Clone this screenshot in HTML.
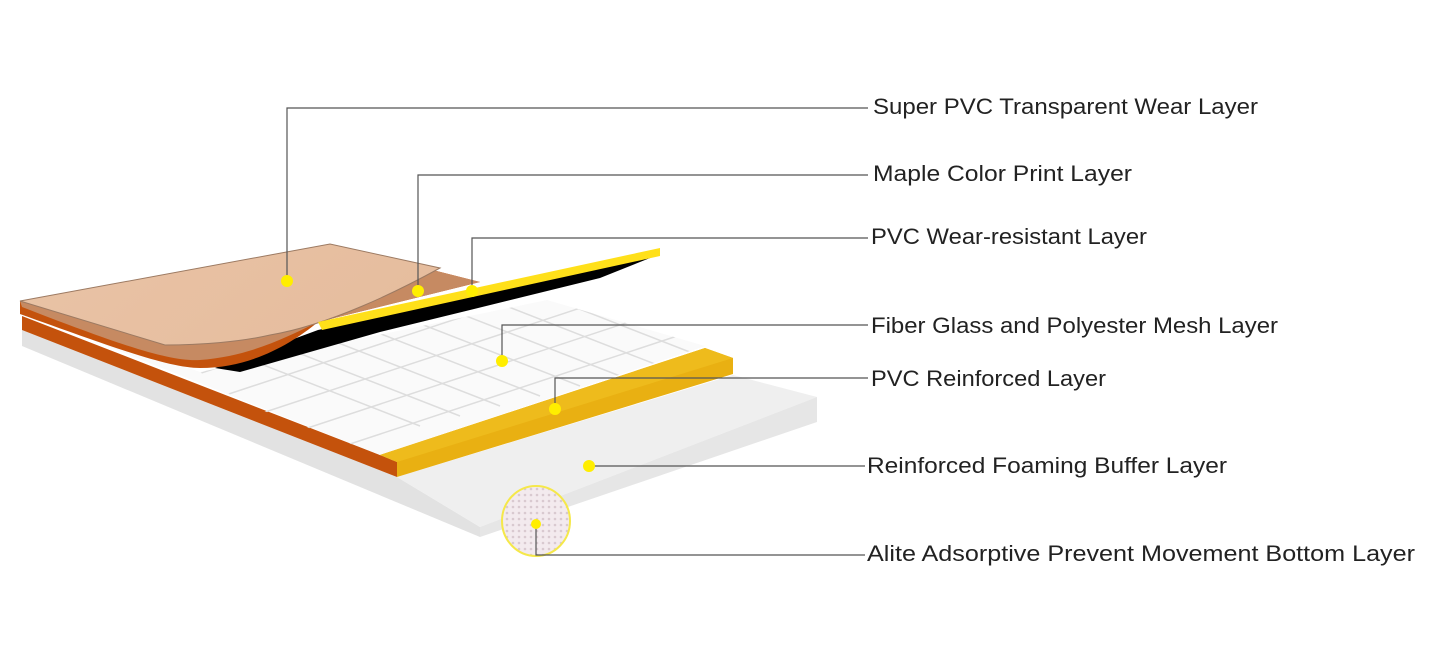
<!DOCTYPE html>
<html><head><meta charset="utf-8"><style>
html,body{margin:0;padding:0;background:#fff;}
svg{display:block}
text{font-family:"Liberation Sans",sans-serif;font-size:22px;fill:#222;}
</style></head><body>
<svg width="1445" height="668" viewBox="0 0 1445 668" xmlns="http://www.w3.org/2000/svg">
<defs>
<clipPath id="mc"><polygon points="200,372 547,300 705,346 380,455 240,402"/></clipPath>
<linearGradient id="wood" x1="0" y1="0" x2="1" y2="0.3"><stop offset="0" stop-color="#e9c3a6"/><stop offset="1" stop-color="#e6bd9e"/></linearGradient>
<pattern id="dots" width="6" height="6" patternUnits="userSpaceOnUse"><rect width="6" height="6" fill="#f3eaee"/><circle cx="3" cy="3" r="1.3" fill="#d9c9d0"/></pattern>
</defs>
<polygon points="22,330 397,477 480,527 480,537 22,346" fill="#e2e2e2"/>
<polygon points="397,477 733,375 817,397 480,527" fill="#efefef"/>
<polygon points="480,527 817,397 817,422 480,537" fill="#e6e6e6"/>
<polygon points="22,316 380,455 397,462 397,477 22,330" fill="#c4520c"/>
<polygon points="22,312 200,372 547,300 705,346 380,455" fill="#fafafa"/>
<g clip-path="url(#mc)" stroke="#dddddd" stroke-width="1.5">
<line x1="100" y1="250" x2="500" y2="406"/><line x1="140" y1="240" x2="540" y2="396"/>
<line x1="180" y1="230" x2="580" y2="386"/><line x1="220" y1="220" x2="620" y2="376"/>
<line x1="260" y1="210" x2="660" y2="366"/><line x1="300" y1="200" x2="700" y2="356"/>
<line x1="340" y1="190" x2="740" y2="346"/><line x1="380" y1="180" x2="780" y2="336"/>
<line x1="420" y1="170" x2="820" y2="326"/><line x1="60" y1="260" x2="460" y2="416"/>
<line x1="20" y1="270" x2="420" y2="426"/>
<line x1="150" y1="420" x2="750" y2="222"/><line x1="150" y1="390" x2="750" y2="192"/>
<line x1="150" y1="360" x2="750" y2="162"/><line x1="150" y1="330" x2="750" y2="132"/>
<line x1="150" y1="300" x2="750" y2="102"/><line x1="150" y1="450" x2="750" y2="252"/>
<line x1="150" y1="480" x2="750" y2="282"/><line x1="150" y1="510" x2="750" y2="312"/>
</g>
<polygon points="380,455 705,348 733,358 733,374 397,477 397,462" fill="#e9b012"/>
<polygon points="380,455 705,348 733,358 397,462" fill="#eebb1c"/>
<polygon points="215,368 318,330 660,254 600,278 470,310 380,332 240,372" fill="#000"/>
<path d="M20,301 L330,244 L480,282 L318,322 C290,345 250,368 200,368 C170,368 120,350 20,314 Z" fill="#c4520c"/>
<path d="M20,301 L330,244 L480,282 L318,322 C285,338 250,356 200,360 C170,362 120,345 22,307 Z" fill="#c68a62"/>
<path d="M20,301 L330,244 L440,268 C400,290 330,325 270,335 C240,342 200,345 165,345 Z" fill="url(#wood)" stroke="#9c7a62" stroke-width="1"/>
<polygon points="318,322 660,248 660,256 322,330" fill="#ffe01a"/>
<ellipse cx="536" cy="521" rx="34" ry="35" fill="url(#dots)" stroke="#f5e84a" stroke-width="2"/>
<g stroke="#555" stroke-width="1.2" fill="none">
<polyline points="287,281 287,108 868,108"/>
<polyline points="418,291 418,175 868,175"/>
<polyline points="472,291 472,238 868,238"/>
<polyline points="502,360 502,325 868,325"/>
<polyline points="555,408 555,378 868,378"/>
<polyline points="589,466 865,466"/>
<polyline points="536,523 536,555 865,555"/>
</g>
<g fill="#ffee00">
<circle cx="287" cy="281" r="6"/><circle cx="418" cy="291" r="6"/><circle cx="472" cy="291" r="6"/>
<circle cx="502" cy="361" r="6"/><circle cx="555" cy="409" r="6"/><circle cx="589" cy="466" r="6"/>
<circle cx="536" cy="524" r="5"/>
</g>
<text x="873" y="114" textLength="385" lengthAdjust="spacingAndGlyphs">Super PVC Transparent Wear Layer</text>
<text x="873" y="181" textLength="259" lengthAdjust="spacingAndGlyphs">Maple Color Print Layer</text>
<text x="871" y="244" textLength="276" lengthAdjust="spacingAndGlyphs">PVC Wear-resistant Layer</text>
<text x="871" y="333" textLength="407" lengthAdjust="spacingAndGlyphs">Fiber Glass and Polyester Mesh Layer</text>
<text x="871" y="386" textLength="235" lengthAdjust="spacingAndGlyphs">PVC Reinforced Layer</text>
<text x="867" y="473" textLength="360" lengthAdjust="spacingAndGlyphs">Reinforced Foaming Buffer Layer</text>
<text x="867" y="561" textLength="548" lengthAdjust="spacingAndGlyphs">Alite Adsorptive Prevent Movement Bottom Layer</text>
</svg>
</body></html>
